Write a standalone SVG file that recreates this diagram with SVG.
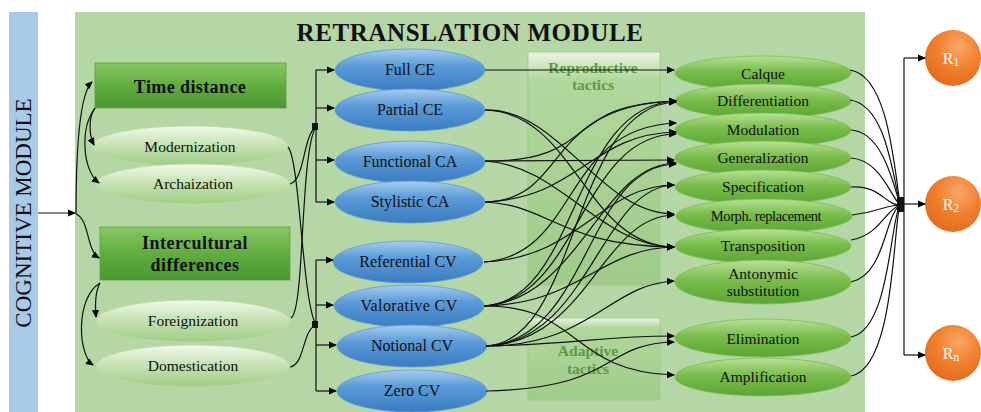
<svg xmlns="http://www.w3.org/2000/svg" width="981" height="412" viewBox="0 0 981 412" font-family="'Liberation Serif', 'Times New Roman', serif">
<defs>
<linearGradient id="gBox" x1="0" y1="0" x2="0" y2="1"><stop offset="0" stop-color="#86c862"/><stop offset="0.5" stop-color="#62ad3f"/><stop offset="1" stop-color="#4b9630"/></linearGradient>
<linearGradient id="gPale" x1="0" y1="0" x2="0" y2="1"><stop offset="0" stop-color="#f2f9ec"/><stop offset="0.45" stop-color="#c8e3b4"/><stop offset="1" stop-color="#9fcd85"/></linearGradient>
<linearGradient id="gBlue" x1="0" y1="0" x2="0" y2="1"><stop offset="0" stop-color="#a6cdf0"/><stop offset="0.4" stop-color="#5b9bd8"/><stop offset="1" stop-color="#3a7cc2"/></linearGradient>
<linearGradient id="gGreen" x1="0" y1="0" x2="0" y2="1"><stop offset="0" stop-color="#b8e195"/><stop offset="0.45" stop-color="#79bd4c"/><stop offset="1" stop-color="#5ba534"/></linearGradient>
<linearGradient id="gTac" x1="0" y1="0" x2="0" y2="1"><stop offset="0" stop-color="#eaf5e2"/><stop offset="0.12" stop-color="#b0d79c"/><stop offset="1" stop-color="#a0cc8a"/></linearGradient>
<radialGradient id="gOr" cx="0.6" cy="0.3" r="0.8"><stop offset="0" stop-color="#f8a868"/><stop offset="0.5" stop-color="#f07e2c"/><stop offset="1" stop-color="#e0691a"/></radialGradient>
<marker id="ar" markerWidth="8" markerHeight="8" refX="7" refY="4" orient="auto" markerUnits="userSpaceOnUse"><path d="M0,0.5 L8,4 L0,7.5 Z" fill="#000"/></marker>
</defs>
<style>
text{font-family:"Liberation Serif","Times New Roman",serif}
.t{fill:#111;text-anchor:middle}
.b{font-weight:bold}
.w{fill:#fff}
.c{fill:none;stroke:#111;stroke-width:1.2}
.a{marker-end:url(#ar)}
.box{fill:url(#gBox);stroke:#5a9e3c;stroke-width:0.8}
.pale{fill:url(#gPale);stroke:#b9dca3;stroke-width:0.8}
.blue{fill:url(#gBlue);stroke:#5e9bd2;stroke-width:0.8}
.grn{fill:url(#gGreen);stroke:#7dbd55;stroke-width:0.8}
.tac{fill:url(#gTac);stroke:#9ec88a;stroke-width:0.8}
.tt{font-weight:bold;fill:#5e9a44;text-anchor:middle;font-size:15.5px}
</style>
<rect width="981" height="412" fill="#fff"/>
<rect id="cogbar" x="9" y="12" width="29" height="400" fill="#a9c9e8"/>
<text class="t" transform="translate(31,213) rotate(-90)" font-size="23">COGNITIVE MODULE</text>
<rect id="retrans" x="75" y="12" width="790" height="400" fill="#b4d7a5"/>
<text class="t b" x="470" y="41" font-size="25" letter-spacing="0.6">RETRANSLATION MODULE</text>

<g id="tactics-repro"><rect class="tac" x="528" y="52" width="132" height="233"/><text class="tt" x="593" y="73">Reproductive</text><text class="tt" x="593" y="90">tactics</text></g>
<g id="tactics-adapt"><rect class="tac" x="528" y="318" width="132" height="82"/><text class="tt" x="588" y="356">Adaptive</text><text class="tt" x="588" y="374">tactics</text></g>

<g id="time-distance"><rect class="box" x="95" y="63" width="191" height="45"/><text class="t b" x="190" y="93" font-size="18" letter-spacing="0.4">Time distance</text></g>
<g id="modernization"><ellipse class="pale" cx="190" cy="146" rx="98" ry="20"/><text class="t" x="190" y="152" font-size="15.5">Modernization</text></g>
<g id="archaization"><ellipse class="pale" cx="193" cy="184" rx="97" ry="20"/><text class="t" x="193" y="189" font-size="15.5">Archaization</text></g>
<g id="intercultural"><rect class="box" x="100" y="227" width="190" height="53"/><text class="t b" x="195" y="249" font-size="18" letter-spacing="0.5">Intercultural</text><text class="t b" x="195" y="271" font-size="18" letter-spacing="0.5">differences</text></g>
<g id="foreignization"><ellipse class="pale" cx="193" cy="321" rx="97" ry="21"/><text class="t" x="193" y="326" font-size="15.5">Foreignization</text></g>
<g id="domestication"><ellipse class="pale" cx="193" cy="366" rx="97" ry="21"/><text class="t" x="193" y="371" font-size="15.5">Domestication</text></g>

<g id="full-ce"><ellipse class="blue" cx="410" cy="70" rx="75" ry="21"/><text class="t" x="410" y="75" font-size="16">Full CE</text></g>
<g id="partial-ce"><ellipse class="blue" cx="410" cy="110" rx="75" ry="21"/><text class="t" x="410" y="115" font-size="16">Partial CE</text></g>
<g id="functional-ca"><ellipse class="blue" cx="410" cy="162" rx="75" ry="21"/><text class="t" x="410" y="167" font-size="16">Functional CA</text></g>
<g id="stylistic-ca"><ellipse class="blue" cx="410" cy="202" rx="75" ry="21"/><text class="t" x="410" y="207" font-size="16">Stylistic CA</text></g>
<g id="referential-cv"><ellipse class="blue" cx="408" cy="262" rx="75" ry="21"/><text class="t" x="408" y="267" font-size="16">Referential CV</text></g>
<g id="valorative-cv"><ellipse class="blue" cx="409" cy="306" rx="75" ry="21"/><text class="t" x="409" y="311" font-size="16" letter-spacing="0.4">Valorative CV</text></g>
<g id="notional-cv"><ellipse class="blue" cx="412" cy="346" rx="75" ry="21"/><text class="t" x="412" y="351" font-size="16">Notional CV</text></g>
<g id="zero-cv"><ellipse class="blue" cx="412" cy="391" rx="75" ry="21"/><text class="t" x="412" y="396" font-size="16">Zero CV</text></g>

<g id="calque"><ellipse class="grn" cx="763" cy="73" rx="88" ry="17"/><text class="t" x="763" y="79" font-size="15.5">Calque</text></g>
<g id="differentiation"><ellipse class="grn" cx="763" cy="101" rx="88" ry="17"/><text class="t" x="763" y="106" font-size="15.5">Differentiation</text></g>
<g id="modulation"><ellipse class="grn" cx="763" cy="130" rx="88" ry="17"/><text class="t" x="763" y="135" font-size="15.5">Modulation</text></g>
<g id="generalization"><ellipse class="grn" cx="763" cy="158" rx="88" ry="17"/><text class="t" x="763" y="163" font-size="15.5">Generalization</text></g>
<g id="specification"><ellipse class="grn" cx="763" cy="187" rx="88" ry="17"/><text class="t" x="763" y="192" font-size="15.5">Specification</text></g>
<g id="morph"><ellipse class="grn" cx="764" cy="216" rx="88" ry="17"/><text class="t" x="766" y="221" font-size="14.5" letter-spacing="-0.4">Morph. replacement</text></g>
<g id="transposition"><ellipse class="grn" cx="763" cy="246" rx="88" ry="17"/><text class="t" x="763" y="251" font-size="15.5">Transposition</text></g>
<g id="antonymic"><ellipse class="grn" cx="763" cy="282" rx="88" ry="22"/><text class="t" x="763" y="279" font-size="15.5">Antonymic</text><text class="t" x="763" y="296" font-size="15.5">substitution</text></g>
<g id="elimination"><ellipse class="grn" cx="763" cy="338" rx="88" ry="19"/><text class="t" x="763" y="344" font-size="15.5">Elimination</text></g>
<g id="amplification"><ellipse class="grn" cx="763" cy="377" rx="88" ry="19"/><text class="t" x="763" y="382" font-size="15.5">Amplification</text></g>

<g id="r1"><circle cx="953" cy="58" r="28" fill="url(#gOr)"/><text class="t w" x="951" y="64" font-size="16">R<tspan font-size="12" dy="2">1</tspan></text></g>
<g id="r2"><circle cx="953" cy="204" r="28" fill="url(#gOr)"/><text class="t w" x="951" y="210" font-size="16">R<tspan font-size="12" dy="2">2</tspan></text></g>
<g id="rn"><circle cx="953" cy="353" r="28" fill="url(#gOr)"/><text class="t w" x="951" y="359" font-size="16">R<tspan font-size="12" dy="2">n</tspan></text></g>

<g id="connectors">
<path class="c a" d="M38,213 L75,213"/>
<path class="c a" d="M76,214 C76,170 78,95 92,82"/>
<path class="c a" d="M76,214 C90,220 86,250 99,258"/>
<path class="c a" d="M95,108 C88,118 89,135 94,145"/>
<path class="c a" d="M95,108 C80,128 82,170 99,183"/>
<path class="c a" d="M100,283 C95,292 95,305 96,317"/>
<path class="c a" d="M100,283 C75,298 78,355 93,365"/>
<path class="c" d="M288,147 C300,160 302,300 316,325"/>
<path class="c" d="M290,184 C305,180 303,135 316,127"/>
<path class="c" d="M291,318 C305,310 300,150 316,127"/>
<path class="c" d="M290,367 C305,365 302,330 316,325"/>
<rect x="312" y="123" width="6" height="7" fill="#111"/>
<rect x="312" y="321" width="6" height="7" fill="#111"/>
<path class="c" d="M316,70 L316,202 M316,260 L316,391"/>
<path class="c a" d="M316,70 L334,70"/>
<path class="c a" d="M316,108 L334,108"/>
<path class="c a" d="M316,160 L334,160"/>
<path class="c a" d="M316,202 L334,202"/>
<path class="c a" d="M316,260 L333,260"/>
<path class="c a" d="M316,305 L333,305"/>
<path class="c a" d="M316,345 L336,345"/>
<path class="c a" d="M316,391 L336,391"/>

<path class="c a" d="M485,70 L674,70"/>
<path class="c a" d="M485,110 C560,108 600,214 674,214"/>
<path class="c a" d="M485,110 C575,112 585,246 674,247"/>
<path class="c a" d="M485,161 L674,160"/>
<path class="c a" d="M485,161 C600,162 560,104 676,101"/>
<path class="c a" d="M485,161 C560,165 600,246 674,247"/>
<path class="c a" d="M485,202 C570,200 540,106 676,101"/>
<path class="c a" d="M485,202 C580,198 590,134 676,132"/>
<path class="c a" d="M485,202 C550,205 560,246 674,247"/>
<path class="c a" d="M484,262 C580,255 560,128 676,123"/>
<path class="c a" d="M484,262 C580,258 600,186 674,185"/>
<path class="c a" d="M484,306 C580,300 570,105 676,101"/>
<path class="c a" d="M484,306 C580,300 580,135 676,134"/>
<path class="c a" d="M484,306 C580,300 600,164 676,163"/>
<path class="c a" d="M484,306 C580,304 600,248 674,247"/>
<path class="c a" d="M484,306 C580,305 570,372 674,375"/>
<path class="c a" d="M486,346 C580,342 570,106 676,102"/>
<path class="c a" d="M486,346 C590,340 585,166 676,164"/>
<path class="c a" d="M486,346 C590,342 600,187 674,185"/>
<path class="c a" d="M486,346 C590,342 600,217 674,215"/>
<path class="c a" d="M486,346 C590,346 610,284 674,281"/>
<path class="c a" d="M486,346 C580,344 600,336 674,336"/>
<path class="c a" d="M486,391 C620,388 600,344 674,342"/>

<path class="c" d="M850,70 C885,75 893,150 900,205"/>
<path class="c" d="M850,100 C885,105 892,170 900,205"/>
<path class="c" d="M851,130 C882,132 893,182 900,205"/>
<path class="c" d="M851,158 C880,160 890,195 900,205"/>
<path class="c" d="M851,187 C880,185 885,205 900,205"/>
<path class="c" d="M852,215 C880,212 885,205 900,205"/>
<path class="c" d="M851,240 C880,235 885,210 900,205"/>
<path class="c" d="M851,282 C885,275 885,215 900,205"/>
<path class="c" d="M851,337 C890,330 890,220 900,205"/>
<path class="c" d="M851,376 C895,368 893,225 900,205"/>
<rect x="897" y="197" width="7" height="15" fill="#111"/>
<path class="c" d="M904,58 L904,355"/>
<path class="c a" d="M904,58 L925,58"/>
<path class="c a" d="M904,204 L925,204"/>
<path class="c a" d="M904,355 L925,355"/>
</g>
</svg>
